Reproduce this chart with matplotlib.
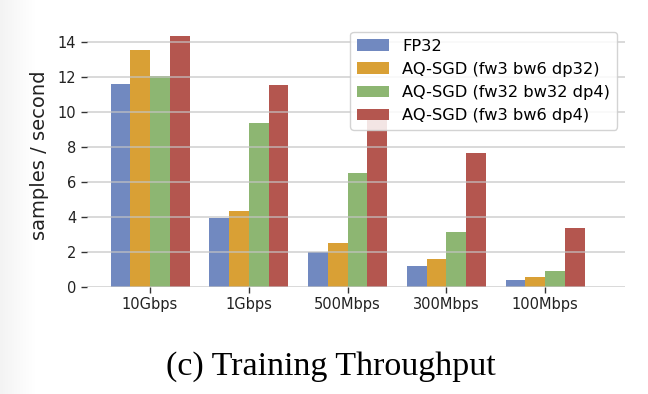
import matplotlib.pyplot as plt
import numpy as np

# DATA
bandwidths = ['10Gbps', '1Gbps', '500Mbps', '300Mbps', '100Mbps']
fp32 = [11.58, 3.93, 2.00, 1.18, 0.38]
aq_fw3_bw6_dp32 = [13.49, 4.31, 2.48, 1.56, 0.57]
aq_fw32_bw32_dp4 = [12.04, 9.37, 6.48, 3.14, 0.92]
aq_fw3_bw6_dp4 = [14.29, 11.53, 9.53, 7.62, 3.37]

series = [fp32, aq_fw3_bw6_dp32, aq_fw32_bw32_dp4, aq_fw3_bw6_dp4]
labels = ['FP32', 'AQ-SGD (fw3 bw6 dp32)', 'AQ-SGD (fw32 bw32 dp4)', 'AQ-SGD (fw3 bw6 dp4)']
colors = ['#7189C0', '#D9A035', '#8DB672', '#B4564F']

fig = plt.figure(figsize=(6.48, 3.94), dpi=100)

# faint grey shadow on the left edge of the screenshot
bg = fig.add_axes([0, 0, 0.055, 1], zorder=-10)
grad = np.linspace(0, 1, 100)[None, :]
bg.imshow(grad, aspect='auto', cmap='Greys_r', vmin=-9, vmax=1, extent=[0, 1, 0, 1])
bg.axis('off')

ax = fig.add_axes([0.134, 0.2723, 0.8305, 0.6667])

x = np.arange(len(bandwidths))
width = 0.2
for i, (vals, lab, col) in enumerate(zip(series, labels, colors)):
    ax.bar(x + (i - 1.5) * width, vals, width, label=lab, color=col, zorder=1)

ax.set_xlim(-0.64, 4.81)
ax.set_ylim(0, 15)
ax.set_yticks(range(0, 15, 2))
ax.set_xticks(x)
ax.set_xticklabels(bandwidths)

ax.grid(True, axis='y', color='#c4c4c4', linewidth=1.2, alpha=0.75, zorder=2)
ax.set_axisbelow(False)
for spine in ax.spines.values():
    spine.set_visible(False)

ax.tick_params(axis='both', length=4, width=1, color='#333333', labelsize=10.5, labelcolor='#222222')
ax.set_ylabel('samples / second', fontsize=14, color='#222222', labelpad=6)

ax.legend(loc='upper right', fontsize=11.7, frameon=True, facecolor='white',
          edgecolor='#cccccc', framealpha=0.85, borderaxespad=0.5)

fig.text(0.511, 0.07, '(c) Training Throughput', family='Liberation Serif',
         fontsize=24.5, ha='center', va='center', color='black')

plt.savefig('out.png', dpi=100)
